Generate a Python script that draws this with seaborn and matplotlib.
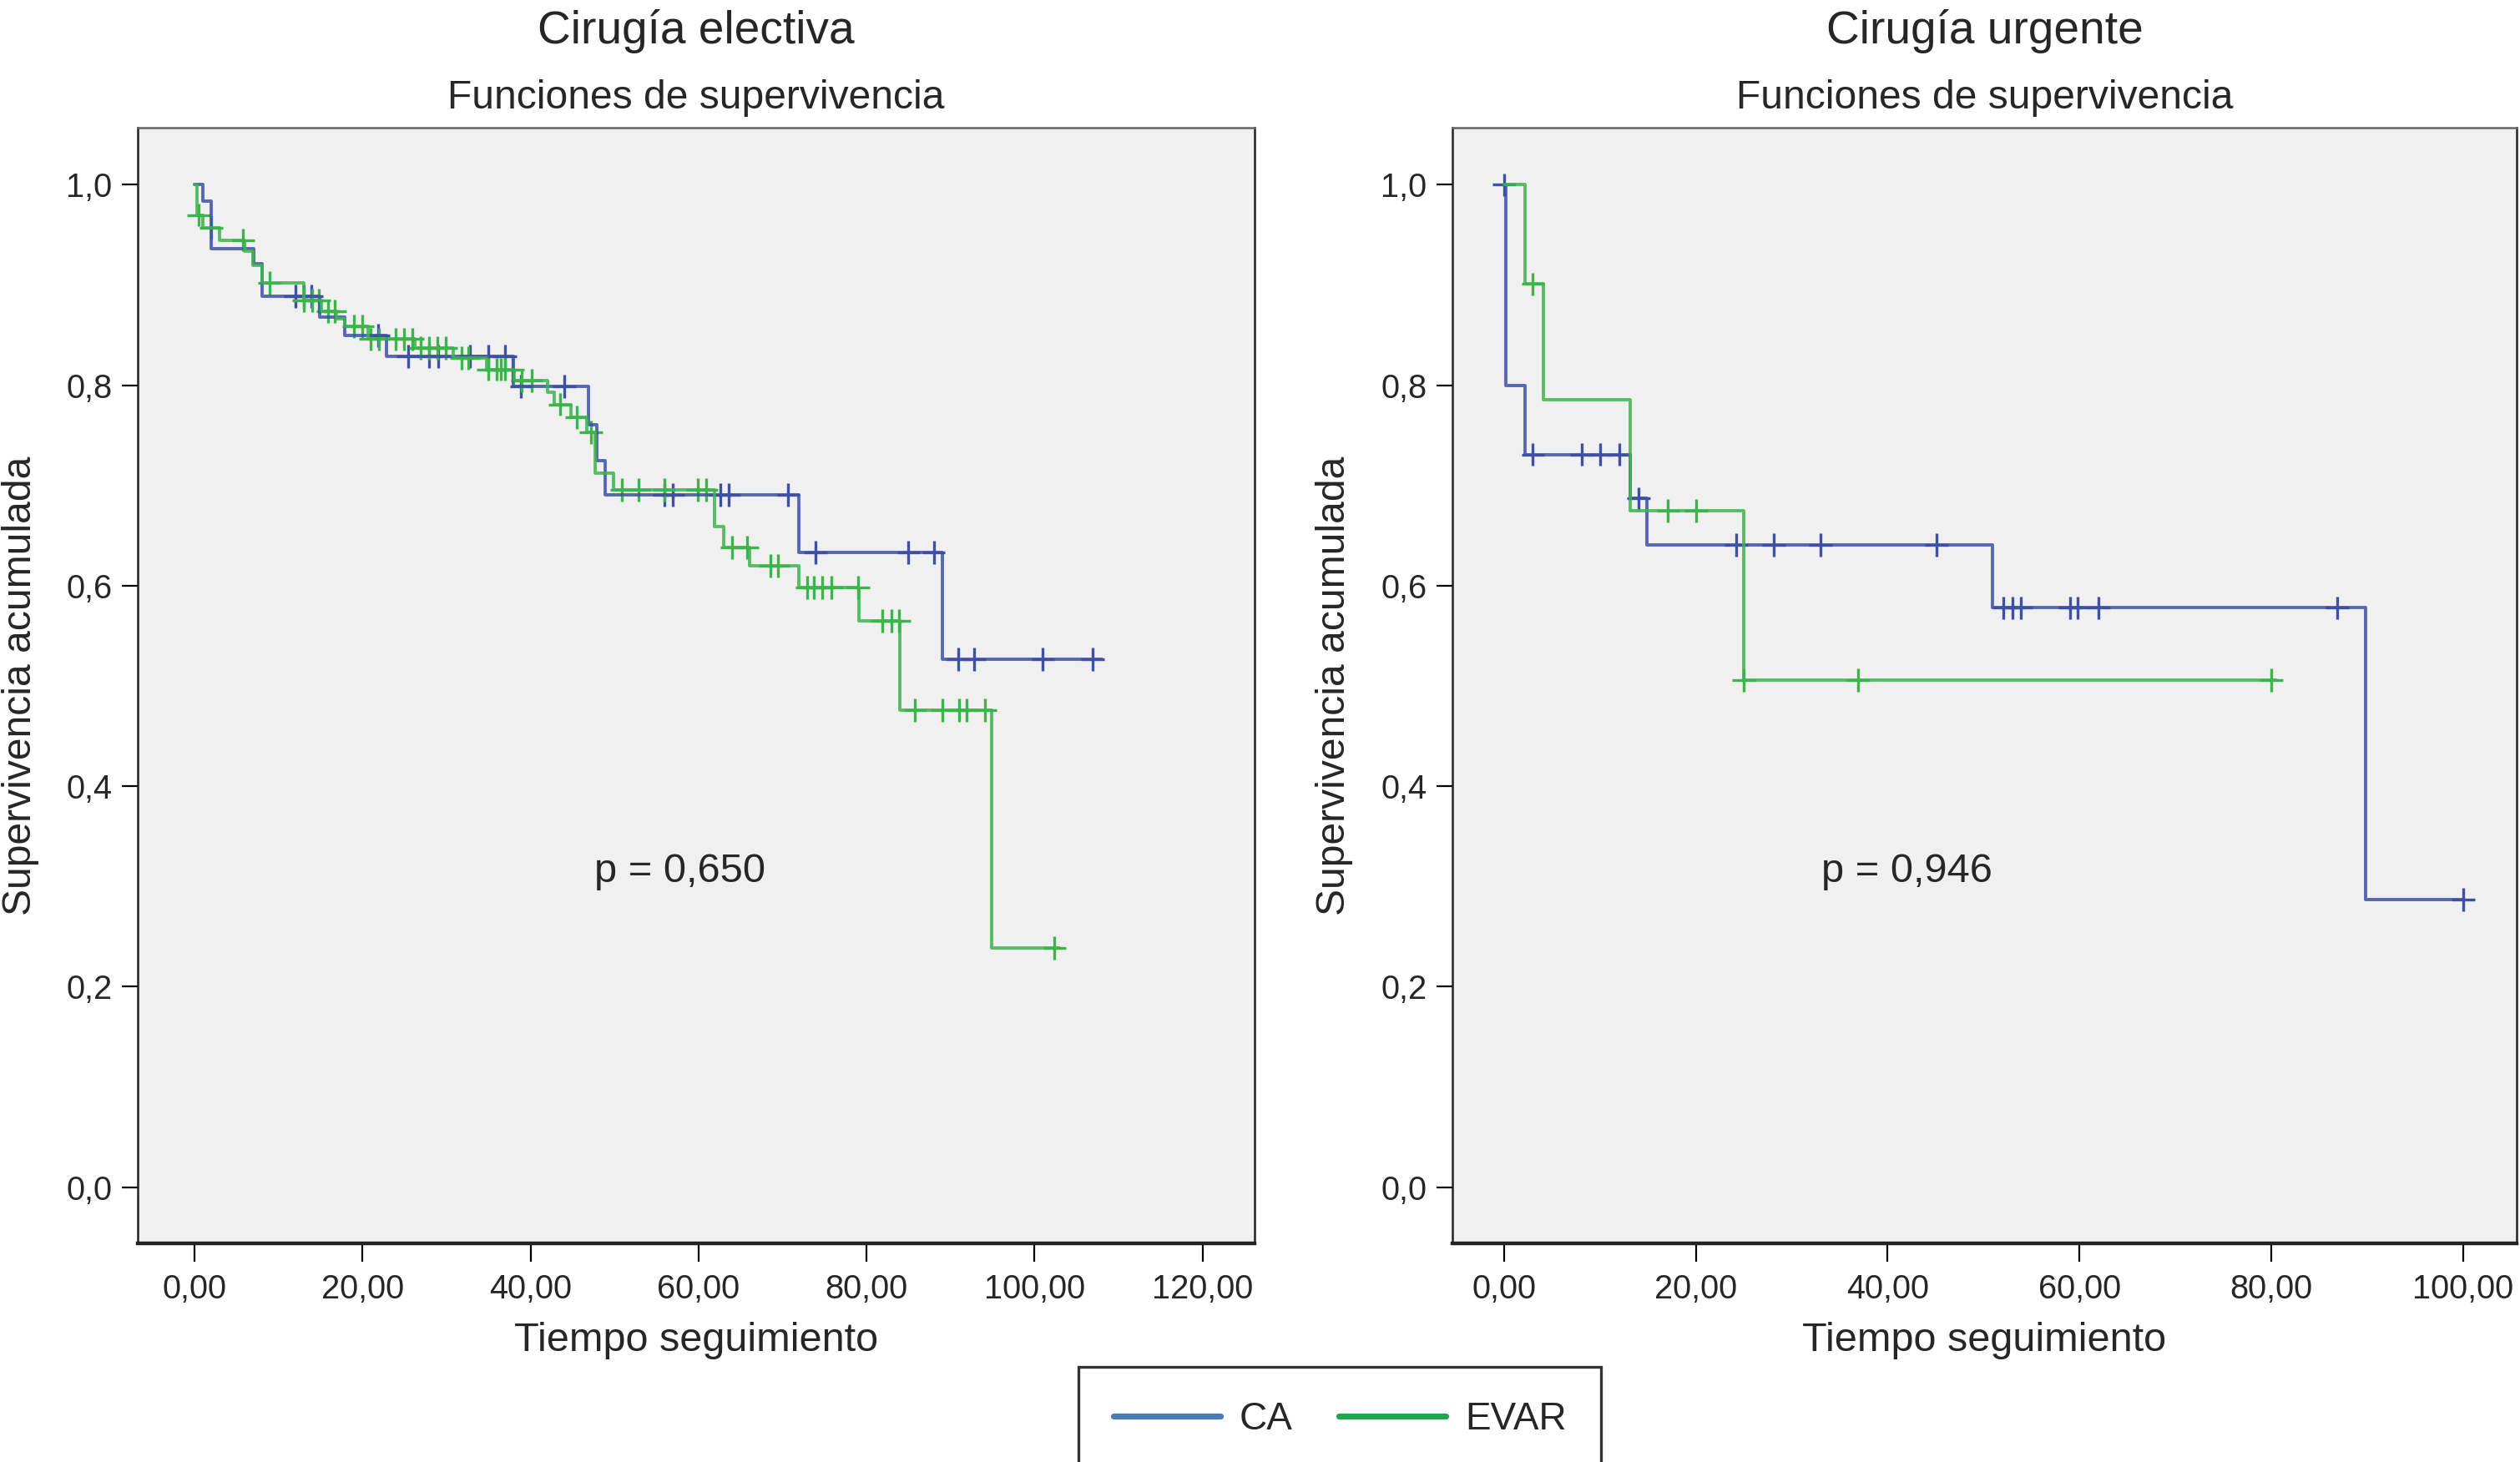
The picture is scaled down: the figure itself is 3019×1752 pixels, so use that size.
import numpy as np
import pandas as pd
import seaborn as sns
import matplotlib.pyplot as plt
from matplotlib.lines import Line2D

# Cirugia electiva - CA
elec_ca_t = [0, 1.0, 2.0, 7.1, 8.0, 14.9, 17.9, 22.9, 38.0, 46.9, 47.9, 48.9, 71.9, 89.0, 108.0]
elec_ca_s = [1.0, 0.984, 0.936, 0.921, 0.889, 0.868, 0.850, 0.829, 0.799, 0.761, 0.725, 0.691, 0.633, 0.527, 0.527]
elec_ca_cens = [12.0, 13.0, 13.9, 21.9, 25.4, 27.9, 29.0, 32.8, 35.0, 37.0, 38.9, 44.0, 55.9, 56.9,
                62.6, 63.6, 70.7, 73.9, 85.0, 88.0, 90.9, 92.8, 101.0, 106.9]

# Cirugia electiva - EVAR
elec_evar_t = [0, 0.3, 1.0, 3.0, 6.0, 7.0, 8.0, 13.0, 15.1, 16.9, 17.9, 20.7, 26.2, 30.8, 34.8, 38.1,
               42.0, 42.8, 44.8, 46.7, 47.7, 49.9, 61.9, 63.0, 66.1, 71.9, 79.1, 84.0, 94.9, 102.9]
elec_evar_s = [1.0, 0.970, 0.957, 0.945, 0.934, 0.920, 0.902, 0.885, 0.874, 0.866, 0.859, 0.846, 0.837,
               0.827, 0.816, 0.805, 0.793, 0.781, 0.768, 0.753, 0.712, 0.696, 0.659, 0.638, 0.620, 0.598,
               0.565, 0.476, 0.239, 0.239]
elec_evar_cens = [0.5, 2.0, 5.8, 8.9, 13.0, 14.0, 14.8, 15.9, 16.7, 19.0, 20.0, 21.0, 22.0, 23.9, 24.9,
                  25.9, 26.9, 27.9, 28.9, 29.9, 31.8, 32.6, 35.0, 36.0, 36.5, 37.0, 37.9, 39.0, 40.1,
                  43.5, 45.5, 47.2, 50.9, 52.9, 55.9, 59.9, 60.9, 64.0, 65.8, 68.6, 69.5, 72.9, 73.7,
                  74.7, 75.8, 79.0, 81.9, 83.0, 83.9, 85.8, 89.0, 91.0, 91.9, 94.1, 102.4]

# Cirugia urgente - CA
urg_ca_t = [0, 0.2, 2.2, 13.1, 14.9, 50.9, 89.8, 100.1]
urg_ca_s = [1.0, 0.80, 0.731, 0.687, 0.641, 0.578, 0.287, 0.287]
urg_ca_cens = [0, 3.0, 8.1, 10.0, 12.0, 14.0, 24.2, 28.1, 33.0, 45.1, 52.1, 53.0, 53.9,
               59.0, 59.8, 62.0, 86.9, 100.0]

# Cirugia urgente - EVAR
urg_evar_t = [0, 2.2, 4.1, 13.1, 25.0, 80.5]
urg_evar_s = [1.0, 0.901, 0.786, 0.675, 0.506, 0.506]
urg_evar_cens = [3.0, 17.1, 20.0, 25.0, 36.9, 80.0]

grupos = ['CA', 'EVAR']
line_colors = {'CA': '#3d50a5', 'EVAR': '#3bb54a'}
legend_colors = {'CA': '#4a7db8', 'EVAR': '#1da84c'}


def build_frames(curves):
    steps, cens = [], []
    for grupo, (t, s, c) in curves.items():
        steps.append(pd.DataFrame({'tiempo': t, 'superv': s, 'grupo': grupo}))
        idx = np.searchsorted(t, c, side='right') - 1
        cens.append(pd.DataFrame({'tiempo': c, 'superv': np.array(s)[idx], 'grupo': grupo}))
    return pd.concat(steps, ignore_index=True), pd.concat(cens, ignore_index=True)


paneles = [
    ('Cirugía electiva', 'p = 0,650', (57.8, 0.315), np.arange(0, 121, 20), (-6.76, 126.2),
     {'CA': (elec_ca_t, elec_ca_s, elec_ca_cens), 'EVAR': (elec_evar_t, elec_evar_s, elec_evar_cens)}),
    ('Cirugía urgente', 'p = 0,946', (42.0, 0.315), np.arange(0, 101, 20), (-5.4, 105.6),
     {'CA': (urg_ca_t, urg_ca_s, urg_ca_cens), 'EVAR': (urg_evar_t, urg_evar_s, urg_evar_cens)}),
]

sns.set_style('ticks')
plt.rcParams['font.family'] = ['Liberation Sans', 'DejaVu Sans']

fig = plt.figure(figsize=(15.095, 8.76), dpi=200)
W, H = 3019, 1752
boxes = [(165, 1503), (1740, 3015)]
top_px, bot_px = 153, 1490

for (titulo, ptxt, ppos, xticks, xlim, curves), (x0, x1) in zip(paneles, boxes):
    ax = fig.add_axes([x0 / W, 1 - bot_px / H, (x1 - x0) / W, (bot_px - top_px) / H])
    ax.set_facecolor('#f0f0f0')
    steps, cens = build_frames(curves)
    sns.lineplot(data=steps, x='tiempo', y='superv', hue='grupo', hue_order=grupos,
                 palette=line_colors, drawstyle='steps-post', estimator=None, sort=False,
                 linewidth=1.4, alpha=0.85, legend=False, ax=ax)
    sns.scatterplot(data=cens, x='tiempo', y='superv', hue='grupo', hue_order=grupos,
                    palette=line_colors, marker='+', s=100, linewidth=1.2, legend=False, ax=ax)
    ax.set_xlim(*xlim)
    ax.set_ylim(-0.056, 1.057)
    ax.set_xticks(xticks)
    ax.set_xticklabels([f'{v:.2f}'.replace('.', ',') for v in xticks])
    yt = np.arange(0, 1.01, 0.2)
    ax.set_yticks(yt)
    ax.set_yticklabels([f'{v:.1f}'.replace('.', ',') for v in yt])
    ax.tick_params(axis='x', length=8, width=0.8, pad=5, labelsize=14.3, color='black')
    ax.tick_params(axis='y', length=7, width=0.8, pad=4, labelsize=14.3, color='black')
    for sp in ax.spines.values():
        sp.set_visible(True)
        sp.set_color('#222222')
        sp.set_linewidth(0.9)
    ax.spines['top'].set_color('#666666')
    ax.spines['bottom'].set_linewidth(1.6)
    ax.set_xlabel('Tiempo seguimiento', fontsize=17.5)
    ax.set_ylabel('Supervivencia acumulada', fontsize=17.3)
    ax.xaxis.set_label_coords(0.5, -0.0875)
    ax.xaxis.label.set_va('center')
    ax.yaxis.set_label_coords(-0.105 if x0 < 1000 else -0.111, 0.5)
    ax.yaxis.label.set_va('center')
    ax.text(ppos[0], ppos[1], ptxt, fontsize=17.6, ha='center', va='center')
    cx = (x0 + x1) / 2 / W
    fig.text(cx, 1 - 37 / H, titulo, fontsize=19.8, ha='center', va='center')
    fig.text(cx, 1 - 117 / H, 'Funciones de supervivencia', fontsize=17.3, ha='center', va='center')

handles = [Line2D([], [], color=legend_colors[g], linewidth=2.6) for g in grupos]
leg = fig.legend(handles, grupos, loc='center', bbox_to_anchor=(1605 / W, 1 - 1701 / H), ncol=2,
                 fontsize=16.5, frameon=True, fancybox=False, edgecolor='black', handlelength=2.8,
                 columnspacing=1.2, handletextpad=0.5, borderpad=0.9)
leg.get_frame().set_linewidth(1.2)

fig.savefig('out.png', dpi=200, facecolor='white')
